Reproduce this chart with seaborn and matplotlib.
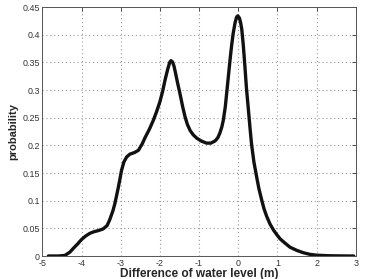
import matplotlib
matplotlib.use("Agg")
import matplotlib.pyplot as plt
import seaborn as sns
import pandas as pd

diff_level = [-4.85, -4.6, -4.43, -4.3, -4.21, -4.1, -4.0, -3.9, -3.79, -3.68, -3.57, -3.45,
              -3.35, -3.28, -3.2, -3.15, -3.06, -2.98, -2.92, -2.85, -2.77, -2.65, -2.55,
              -2.45, -2.38, -2.27, -2.17, -2.08, -2.0, -1.93, -1.87, -1.8, -1.75, -1.72,
              -1.68, -1.64, -1.6, -1.55, -1.49, -1.42, -1.36, -1.3, -1.23, -1.15, -1.06,
              -0.95, -0.81, -0.7, -0.59, -0.52, -0.47, -0.42, -0.38, -0.33, -0.29, -0.25,
              -0.21, -0.17, -0.13, -0.08, -0.04, -0.01, 0.03, 0.06, 0.09, 0.13, 0.17, 0.21,
              0.26, 0.30, 0.34, 0.40, 0.47, 0.53, 0.60, 0.66, 0.73, 0.81, 0.90, 0.98, 1.07,
              1.2, 1.32, 1.5, 1.66, 1.83, 2.0, 2.3, 2.6, 2.95]
probability = [0.000, 0.000, 0.001, 0.007, 0.014, 0.022, 0.030, 0.036, 0.041, 0.044, 0.046,
               0.049, 0.055, 0.066, 0.082, 0.095, 0.125, 0.155, 0.170, 0.179, 0.184, 0.187,
               0.191, 0.203, 0.214, 0.229, 0.245, 0.262, 0.279, 0.298, 0.318, 0.338, 0.350,
               0.353, 0.351, 0.343, 0.330, 0.313, 0.294, 0.270, 0.252, 0.238, 0.227, 0.219,
               0.213, 0.208, 0.204, 0.204, 0.208, 0.214, 0.222, 0.233, 0.246, 0.270, 0.298,
               0.326, 0.354, 0.380, 0.402, 0.422, 0.432, 0.434, 0.430, 0.422, 0.410, 0.380,
               0.343, 0.303, 0.264, 0.232, 0.202, 0.170, 0.143, 0.121, 0.101, 0.085, 0.071,
               0.058, 0.047, 0.039, 0.031, 0.023, 0.016, 0.010, 0.006, 0.003, 0.0015, 0.0005,
               0.0002, 0.0]

x_ticks = [-5, -4, -3, -2, -1, 0, 1, 2, 3]
y_ticks = [0, 0.05, 0.1, 0.15, 0.2, 0.25, 0.3, 0.35, 0.4, 0.45]
y_tick_labels = ["0", "0.05", "0.1", "0.15", "0.2", "0.25", "0.3", "0.35", "0.4", "0.45"]

sns.set_style("white")
plt.rcParams["font.family"] = ["Liberation Sans", "DejaVu Sans"]

df = pd.DataFrame({"x": diff_level, "y": probability})

fig = plt.figure(figsize=(3.65, 2.79), dpi=100)
ax = fig.add_axes([0.1164, 0.0824, 0.8581, 0.8925])
sns.lineplot(data=df, x="x", y="y", ax=ax, color="#111111", linewidth=2.4, sort=False)

ax.set_xlim(-5, 3)
ax.set_ylim(0, 0.45)
ax.set_xticks(x_ticks)
ax.set_xticklabels([str(t) for t in x_ticks])
ax.set_yticks(y_ticks)
ax.set_yticklabels(y_tick_labels)
ax.grid(True, linestyle=(0, (1, 2.5)), color="#9a9a9a", linewidth=0.8)
ax.tick_params(direction="in", length=3, width=0.6, labelsize=6.4, colors="#333333",
               top=True, right=True, pad=2)
for s in ax.spines.values():
    s.set_visible(True)
    s.set_color("#555555")
    s.set_linewidth(0.7)

ax.set_xlabel("Difference of water level (m)", fontsize=8.6, fontweight="bold", labelpad=0.5)
ax.set_ylabel("probability", fontsize=8, fontweight="bold", labelpad=3)

fig.savefig("out.png", dpi=100, facecolor="white")
